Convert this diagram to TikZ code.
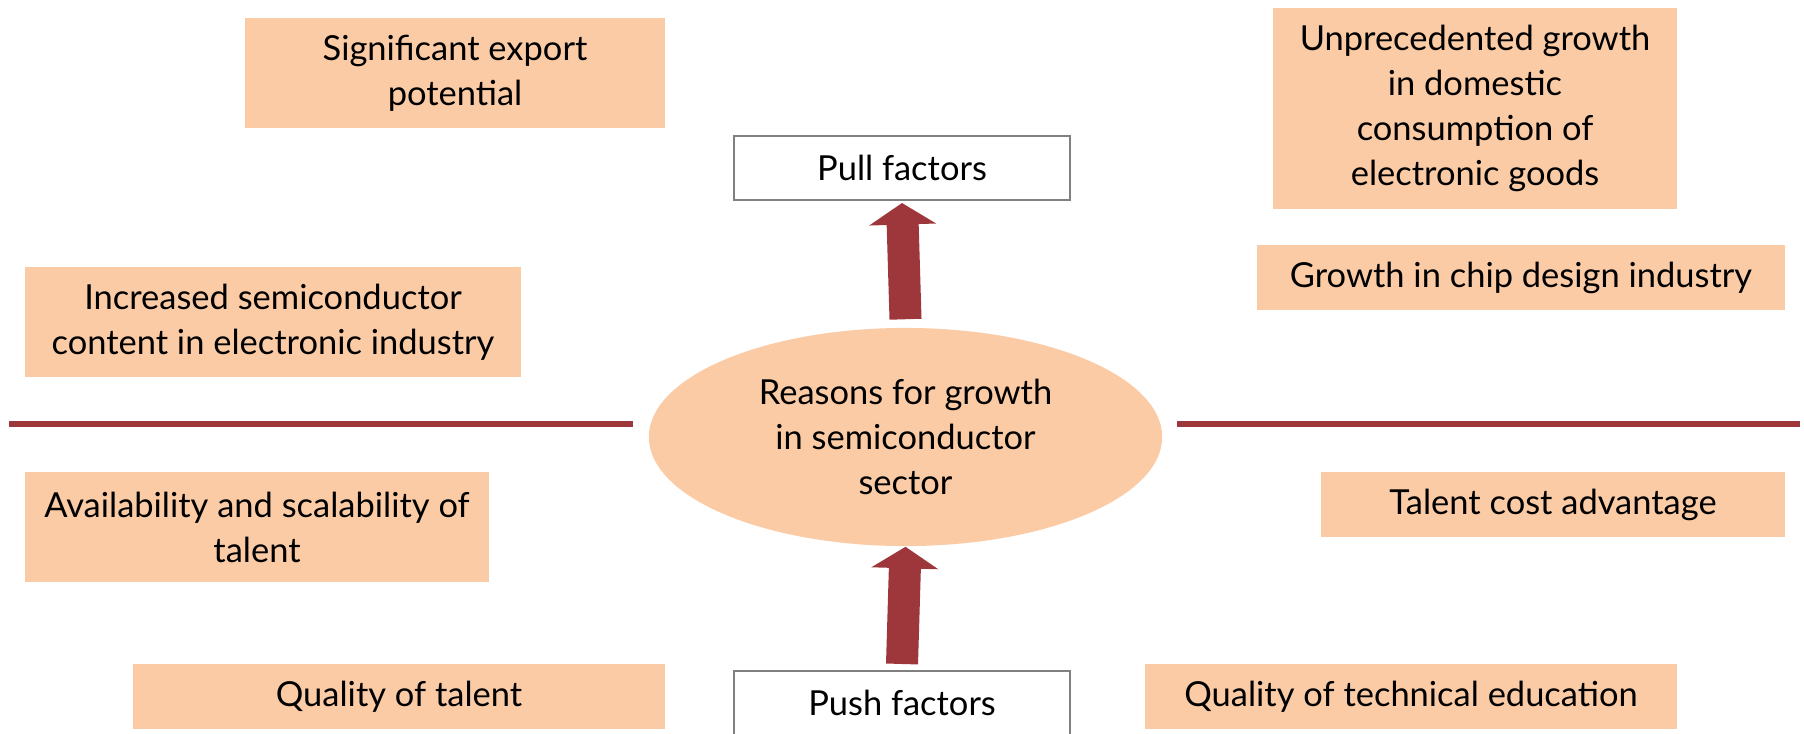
\documentclass[tikz,border=0pt]{standalone}
\usepackage{fontspec}
\setmainfont{Lato}
\usetikzlibrary{shapes.geometric,arrows.meta}
\definecolor{peach}{RGB}{251,203,166}
\definecolor{pushred}{RGB}{158,55,60}
\definecolor{framegray}{RGB}{128,128,128}

\begin{document}
\begin{tikzpicture}[x=0.01cm,y=-0.01cm,
    factor/.style={fill=peach,inner sep=0pt,align=center,font=\fontsize{9.8}{12.8}\selectfont},
    heading/.style={draw=framegray,line width=0.02cm,fill=white,inner sep=0pt,
      minimum width=3.36cm,minimum height=0.64cm,font=\fontsize{9.8}{12.8}\selectfont},
    force/.style={draw=pushred,line width=0.32cm,-{Triangle[width=0.66cm,length=0.215cm]}},
    divider/.style={draw=pushred,line width=0.06cm}]
    \useasboundingbox (0,0) rectangle (1804,733);
    \node (export) at (455,73) [factor,minimum width=4.20cm,minimum height=1.10cm] {Significant export\\potential};
    \node (domestic) at (1475,108.5) [factor,minimum width=4.04cm,minimum height=2.01cm] {Unprecedented growth\\in domestic\\consumption of\\electronic goods};
    \node (chipdesign) at (1521,277.5) [factor,minimum width=5.28cm,minimum height=0.65cm] {Growth in chip design industry};
    \node (content) at (273,322) [factor,minimum width=4.96cm,minimum height=1.10cm] {Increased semiconductor\\content in electronic industry};
    \node (availability) at (257,527) [factor,minimum width=4.64cm,minimum height=1.10cm] {Availability and scalability of\\talent};
    \node (costadv) at (1553,504.5) [factor,minimum width=4.64cm,minimum height=0.65cm] {Talent cost advantage};
    \node (quality) at (399,696.5) [factor,minimum width=5.32cm,minimum height=0.65cm] {Quality of talent};
    \node (education) at (1411,696.5) [factor,minimum width=5.32cm,minimum height=0.65cm] {Quality of technical education};
    \node (pull) at (902,168) [heading] {Pull factors};
    \node (push) at (902,703) [heading] {Push factors};
    \node (reasons) at (905.5,437) [ellipse,fill=peach,inner sep=0pt,minimum width=5.13cm,minimum height=2.18cm,
      align=center,font=\fontsize{9.8}{12.8}\selectfont] {Reasons for growth\\in semiconductor\\sector};
    \draw[divider] (9,424) -- (633,424);
    \draw[divider] (1177,424) -- (1800,424);
    \draw[force] ([yshift=0.08cm]reasons.north) -- ([yshift=-0.02cm]pull.south);
    \draw[force] ([yshift=0.06cm]push.north) -- (reasons.south);
\end{tikzpicture}
\end{document}
